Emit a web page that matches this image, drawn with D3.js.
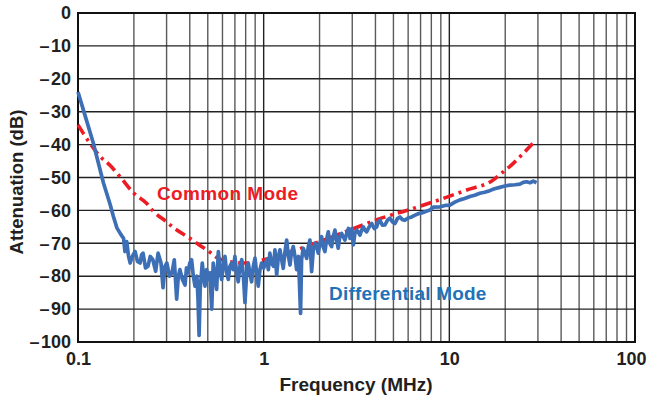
<!DOCTYPE html>
<html>
<head>
<meta charset="utf-8">
<script src="https://cdn.jsdelivr.net/npm/d3@7"></script>
<style>
  html, body { margin: 0; padding: 0; background: #fff; }
  svg text { font-family: "Liberation Sans", Arial, Helvetica, sans-serif; font-weight: bold; }
</style>
</head>
<body>
<div id="chart"></div>
<script>
// tick values
const xTicks = [0.1, 1, 10, 100];
const yTicks = [0, -10, -20, -30, -40, -50, -60, -70, -80, -90, -100];

// Differential mode attenuation [MHz, dB]
const diffMode = [
  [0.1, -24], [0.11, -31.8], [0.121, -39.6], [0.137, -51.6], [0.149, -58.2], [0.155, -61.8],
  [0.162, -65.3], [0.170, -67.3], [0.176, -68.5], [0.179, -72.5], [0.183, -69.5], [0.187, -73.8],
  [0.191, -76], [0.196, -74], [0.203, -72.5], [0.209, -75.5], [0.216, -76], [0.220, -73.5],
  [0.224, -73], [0.231, -77.5], [0.238, -77], [0.245, -74], [0.253, -75], [0.262, -78.5],
  [0.270, -73], [0.280, -76], [0.287, -83.5], [0.294, -77], [0.301, -76], [0.311, -80],
  [0.321, -79], [0.330, -75], [0.340, -87], [0.347, -80], [0.354, -78], [0.365, -81],
  [0.377, -82.7], [0.384, -77.5], [0.391, -79], [0.400, -76], [0.409, -75], [0.418, -80],
  [0.427, -83], [0.437, -80], [0.443, -87], [0.449, -98], [0.455, -84], [0.467, -76],
  [0.475, -80], [0.483, -83], [0.493, -78], [0.503, -81], [0.514, -79], [0.525, -90],
  [0.535, -76], [0.547, -80], [0.558, -84], [0.570, -72.5], [0.582, -78], [0.594, -81],
  [0.607, -76], [0.619, -74], [0.632, -79], [0.645, -81], [0.658, -77], [0.672, -76],
  [0.686, -78], [0.700, -74], [0.715, -79], [0.729, -81.7], [0.745, -77], [0.762, -75],
  [0.778, -80], [0.793, -88], [0.810, -79], [0.826, -76], [0.843, -79], [0.861, -81.7],
  [0.880, -77], [0.898, -74.5], [0.916, -79], [0.935, -83], [0.955, -78], [0.975, -76],
  [1.00, -77.5], [1.04, -75], [1.06, -78], [1.08, -73], [1.10, -76], [1.13, -77],
  [1.15, -72], [1.175, -79.6], [1.20, -74], [1.224, -72], [1.25, -75], [1.275, -77.6],
  [1.30, -73], [1.33, -69], [1.36, -74], [1.386, -76.6], [1.41, -73], [1.443, -71],
  [1.475, -74], [1.505, -78], [1.54, -74], [1.58, -91.3], [1.60, -75], [1.633, -71.5],
  [1.67, -73], [1.705, -74.6], [1.74, -71], [1.775, -69], [1.813, -78.6], [1.85, -72],
  [1.889, -70], [1.93, -71], [1.967, -73], [2.01, -70], [2.052, -68], [2.09, -71],
  [2.138, -72.5], [2.18, -69], [2.228, -66.5], [2.27, -70], [2.323, -71], [2.37, -68],
  [2.42, -66], [2.47, -69], [2.52, -71.5], [2.57, -68], [2.63, -67], [2.68, -68],
  [2.74, -69], [2.80, -67], [2.86, -65.5], [2.92, -68.5], [2.98, -65.5], [3.04, -70.5],
  [3.10, -67], [3.17, -66], [3.23, -66.5], [3.30, -67.5], [3.37, -66], [3.44, -65],
  [3.51, -66], [3.59, -66.5], [3.70, -65], [3.82, -64], [3.94, -65.5], [4.06, -65],
  [4.14, -63.5], [4.23, -63], [4.36, -64.5], [4.50, -64.4], [4.64, -63], [4.79, -62.4],
  [4.94, -63.5], [5.09, -64], [5.25, -62.5], [5.42, -62], [5.59, -62.8], [5.76, -63],
  [6.0, -62.3], [6.27, -62], [6.5, -61.5], [6.80, -61], [7.1, -60.8], [7.39, -60.4],
  [7.86, -59.9], [8.19, -59], [8.9, -58.9], [9.5, -58.5], [10.07, -58.4], [10.7, -57.5],
  [11.4, -56.8], [12.1, -56.4], [12.9, -55.8], [13.7, -55.4], [14.6, -54.8], [15.5, -54.5],
  [16.5, -54], [17.5, -53.4], [18.7, -53], [19.9, -52.6], [21.2, -52.3], [22.6, -52.2],
  [24.0, -52], [25.0, -51.5], [26.1, -51.3], [27.2, -51.6], [28.3, -51.1], [29.5, -51.6]
];

// Common mode attenuation [MHz, dB]
const commonMode = [
  [0.1, -34], [0.116, -39.6], [0.131, -43.5], [0.15, -46.5], [0.168, -49.7], [0.2, -54.8],
  [0.234, -57.8], [0.254, -60.2], [0.3, -63.5], [0.326, -65.2], [0.4, -68.5], [0.45, -70.5],
  [0.5, -72.2], [0.558, -74.3], [0.66, -75.6], [0.8, -76], [1.0, -75], [1.5, -72],
  [2.0, -69.5], [2.9, -66], [4.0, -63], [5.0, -61.2], [5.76, -60.2], [8.2, -57.4],
  [12.4, -53.8], [17.2, -50.8], [19.1, -48.7], [22.1, -45.7], [24, -43.7], [28.2, -39.6]
];

const W = 649, H = 398;
const margin = { left: 78, right: 14, top: 13, bottom: 56 };
const width = W - margin.left - margin.right;
const height = H - margin.top - margin.bottom;

const svg = d3.select('#chart').append('svg')
  .attr('width', W).attr('height', H);
const g = svg.append('g')
  .attr('transform', 'translate(' + margin.left + ',' + margin.top + ')');

const x = d3.scaleLog().domain([0.1, 100]).range([0, width]);
const y = d3.scaleLinear().domain([-100, 0]).range([height, 0]);

// grid: every 1..9 per decade on x, 10 dB on y
const xGrid = x.ticks().filter(v => v > 0.1 && v < 100);
g.append('g').selectAll('line').data(xGrid).join('line')
  .attr('x1', d => x(d)).attr('x2', d => x(d))
  .attr('y1', 0).attr('y2', height)
  .attr('stroke', d => xTicks.includes(d) ? '#222' : '#5a5a5a')
  .attr('stroke-width', 1.4);
g.append('g').selectAll('line').data(yTicks.filter(v => v > -100 && v < 0)).join('line')
  .attr('x1', 0).attr('x2', width)
  .attr('y1', d => y(d)).attr('y2', d => y(d))
  .attr('stroke', '#222')
  .attr('stroke-width', 1.4);

g.append('rect')
  .attr('width', width).attr('height', height)
  .attr('fill', 'none').attr('stroke', '#111').attr('stroke-width', 2);

// axes (labels only)
const xAxis = g.append('g')
  .attr('transform', 'translate(0,' + height + ')')
  .call(d3.axisBottom(x).tickValues(xTicks).tickSize(0).tickPadding(10)
    .tickFormat(d => String(d)));
const yAxis = g.append('g')
  .call(d3.axisLeft(y).tickValues(yTicks).tickSize(0).tickPadding(7)
    .tickFormat(d => d === 0 ? '0' : '\u2013\u200a' + Math.abs(d)));
[xAxis, yAxis].forEach(a => {
  a.select('.domain').remove();
  a.selectAll('text').attr('font-size', 18).attr('fill', '#231f20')
    .style('font-family', '"Liberation Sans", Arial, sans-serif').style('font-weight', 'bold');
});
// keep the last label inside the page
xAxis.selectAll('text').filter(d => d === 100).attr('dx', -4);

const line = d3.line().x(d => x(d[0])).y(d => y(d[1]));

g.append('path').datum(commonMode)
  .attr('d', line.curve(d3.curveMonotoneX))
  .attr('fill', 'none').attr('stroke', '#ed1c24').attr('stroke-width', 3.6)
  .attr('stroke-dasharray', '11,5,3,5');

g.append('path').datum(diffMode)
  .attr('d', d3.line().x(d => x(d[0])).y(d => y(d[1])))
  .attr('fill', 'none').attr('stroke', '#3d6fb6').attr('stroke-width', 3.7)
  .attr('stroke-linejoin', 'round');

// series labels
g.append('text').attr('x', x(0.266)).attr('y', y(-56.8))
  .attr('font-size', 19).attr('fill', '#ed1c24').attr('letter-spacing', 0.4)
  .text('Common Mode');
g.append('text').attr('x', x(2.25)).attr('y', y(-87.2))
  .attr('font-size', 19).attr('fill', '#1f72b8').attr('letter-spacing', 0.2)
  .text('Differential Mode');

// axis titles
svg.append('text')
  .attr('x', 356).attr('y', 391)
  .attr('text-anchor', 'middle').attr('font-size', 19).attr('fill', '#231f20')
  .text('Frequency (MHz)');
svg.append('text')
  .attr('transform', 'translate(23,182) rotate(-90)')
  .attr('text-anchor', 'middle').attr('font-size', 18.5).attr('fill', '#231f20')
  .text('Attenuation (dB)');
</script>
</body>
</html>
